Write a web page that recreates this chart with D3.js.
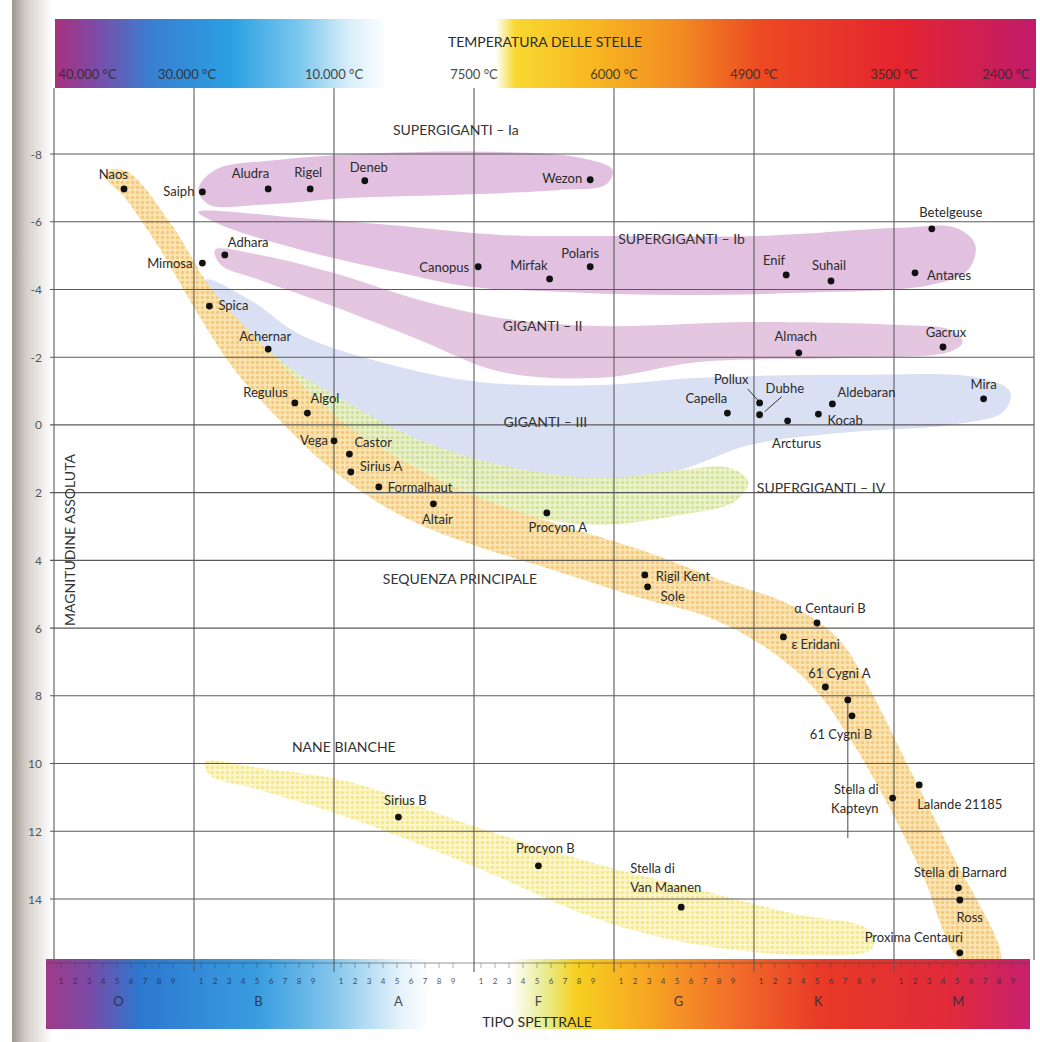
<!DOCTYPE html>
<html>
<head>
<meta charset="utf-8">
<script src="https://cdn.jsdelivr.net/npm/d3@7"></script>
<style>
    body { margin: 0; background: #fff; }
    svg text { font-family: Lato, "Open Sans", sans-serif; }
</style>
</head>
<body>
<div id="canvas"></div>
<script>
"use strict"

/* drawing size */
let svgWidth = 1040;
let svgHeight = 1042;
/* plot box */
let plotLeft = 54;
let plotRight = 1034;
let plotTop = 88;
let plotBottom = 960;

/* axis data */
let spectralClasses = ["O", "B", "A", "F", "G", "K", "M"];
let subTypes = [1, 2, 3, 4, 5, 6, 7, 8, 9];
let magnitudeTicks = [-8, -6, -4, -2, 0, 2, 4, 6, 8, 10, 12, 14];
let temperatureLabels = ["40.000 °C", "30.000 °C", "10.000 °C", "7500 °C", "6000 °C", "4900 °C", "3500 °C", "2400 °C"];
let temperatureAt = [0.24, 0.95, 2, 3, 4, 5, 6, 6.8]; // spectral position of each label

/* stars: spectral position (0 = O0 ... 7 = end of M) and absolute magnitude */
let starNames = ["Naos", "Saiph", "Aludra", "Rigel", "Deneb", "Wezon", "Adhara", "Mimosa", "Canopus", "Mirfak",
    "Polaris", "Spica", "Achernar", "Betelgeuse", "Enif", "Suhail", "Antares", "Almach", "Gacrux", "Capella",
    "Pollux", "Dubhe", "Arcturus", "Kocab", "Aldebaran", "Mira", "Regulus", "Algol", "Vega", "Castor",
    "Sirius A", "Formalhaut", "Altair", "Procyon A", "Rigil Kent", "Sole", "α Centauri B", "ε Eridani", "61 Cygni A", "",
    "61 Cygni B", "Stella di Kapteyn", "Lalande 21185", "Stella di Barnard", "Ross", "Proxima Centauri", "Sirius B", "Procyon B", "Stella di Van Maanen"];
let starType = [0.50, 1.06, 1.53, 1.83, 2.22, 3.83, 1.22, 1.06, 3.03, 3.54,
    3.83, 1.11, 1.53, 6.27, 5.23, 5.55, 6.15, 5.32, 6.35, 4.81,
    5.04, 5.04, 5.24, 5.46, 5.56, 6.64, 1.72, 1.81, 2.00, 2.11,
    2.12, 2.32, 2.71, 3.52, 4.22, 4.24, 5.45, 5.21, 5.51, 5.67,
    5.70, 5.99, 6.18, 6.46, 6.47, 6.47, 2.46, 3.46, 4.48];
let starMag = [-6.97, -6.88, -6.97, -6.97, -7.21, -7.24, -5.02, -4.78, -4.67, -4.31,
    -4.67, -3.51, -2.24, -5.79, -4.43, -4.25, -4.49, -2.13, -2.30, -0.35,
    -0.65, -0.30, -0.12, -0.32, -0.62, -0.77, -0.65, -0.35, 0.47, 0.86,
    1.39, 1.83, 2.33, 2.60, 4.43, 4.78, 5.85, 6.26, 7.74, 8.12,
    8.59, 11.02, 10.63, 13.67, 14.03, 15.59, 11.58, 13.02, 14.24];

/* regions of the diagram, outlines as [spectral, magnitude] */
let superGiantsIa = [[1.03, -6.94], [1.15, -7.53], [1.61, -7.83], [2.33, -8.03], [3.19, -8.06], [3.76, -7.89], [3.99, -7.53],
    [3.94, -7.09], [3.61, -6.94], [2.83, -6.79], [2.11, -6.70], [1.47, -6.50], [1.11, -6.50]];
let superGiantsIb = [[1.03, -6.29], [1.76, -6.11], [2.47, -5.88], [3.19, -5.61], [4.04, -5.58], [5.04, -5.58], [6.04, -5.82],
    [6.44, -5.82], [6.58, -5.32], [6.53, -4.58], [6.26, -4.13], [5.33, -3.90], [4.26, -3.84], [3.61, -3.93], [2.97, -4.08],
    [2.47, -4.49], [1.76, -5.17], [1.19, -5.91]];
let giantsII = [[1.15, -5.17], [1.47, -5.02], [1.97, -4.52], [2.61, -3.69], [3.19, -3.16], [3.90, -2.92], [4.97, -3.04],
    [6.04, -2.95], [6.40, -2.81], [6.49, -2.45], [6.40, -2.16], [5.69, -1.98], [4.61, -1.86], [3.90, -1.39], [3.19, -1.57],
    [2.61, -2.51], [1.97, -3.54], [1.47, -4.28], [1.19, -4.73]];
let giantsIII = [[1.08, -4.28], [1.40, -3.69], [1.76, -2.66], [2.33, -1.86], [3.04, -1.27], [3.90, -1.18], [4.61, -1.39],
    [5.69, -1.48], [6.61, -1.39], [6.83, -0.97], [6.78, -0.38], [6.40, 0.00], [5.69, 0.21], [4.97, 0.59], [4.47, 1.33],
    [3.90, 1.77], [3.19, 1.83], [2.61, 1.18], [1.97, -0.15], [1.47, -1.62], [1.15, -3.25]];
let superGiantsIV = [[1.44, -2.36], [1.76, -1.48], [2.19, -0.44], [2.61, 0.44], [3.19, 1.18], [3.90, 1.57], [4.47, 1.33],
    [4.83, 1.27], [4.96, 1.68], [4.86, 2.27], [4.47, 2.66], [3.90, 2.95], [3.33, 2.66], [2.76, 2.07], [2.33, 1.33],
    [1.90, 0.15], [1.54, -1.18], [1.40, -1.92]];
let mainSequence = [[0.40, -7.53], [0.53, -7.47], [0.84, -5.91], [1.13, -3.99], [1.54, -2.16], [2.04, -0.15], [2.54, 1.18],
    [3.04, 2.16], [3.61, 2.95], [4.19, 3.69], [4.76, 4.58], [5.26, 5.32], [5.61, 6.35], [5.83, 7.83], [6.08, 9.90],
    [6.40, 12.55], [6.76, 15.86], [6.49, 15.86], [6.19, 13.14], [5.90, 10.78], [5.69, 9.30], [5.44, 7.83], [5.11, 6.65],
    [4.69, 5.70], [4.19, 5.11], [3.61, 4.34], [2.97, 3.51], [2.47, 2.66], [1.97, 1.27], [1.61, -0.15], [1.29, -1.62],
    [1.01, -3.40], [0.76, -5.17], [0.49, -6.79], [0.37, -7.29]];
let whiteDwarfs = [[1.08, 9.95], [1.47, 10.13], [2.11, 10.54], [2.97, 11.81], [3.90, 12.99], [4.61, 13.73], [5.33, 14.47],
    [5.76, 14.77], [5.86, 15.12], [5.83, 15.51], [5.33, 15.65], [4.61, 15.36], [3.90, 14.62], [2.97, 12.99], [2.11, 11.61],
    [1.47, 10.78], [1.11, 10.34]];

/* region names and where they are written */
let regionNames = ["SUPERGIGANTI – Ia", "SUPERGIGANTI – Ib", "GIGANTI – II", "GIGANTI – III", "SUPERGIGANTI – IV", "SEQUENZA PRINCIPALE", "NANE BIANCHE"];
let regionLabelAt = [[2.87, -8.71], [4.03, -5.49], [3.49, -2.95], [3.51, -0.09], [5.02, 1.86], [2.90, 4.55], [2.07, 9.5]];
let regionAnchor = ["middle", "start", "middle", "middle", "start", "middle", "middle"];

/* label offsets from the dot: [dx, dy, anchor] */
let labelLayout = {
    "Naos": [4, -15, "end"], "Saiph": [-8, -1, "end"], "Aludra": [1, -16, "end"], "Rigel": [-2, -17, "middle"],
    "Deneb": [4, -14, "middle"], "Wezon": [-8, -2, "end"], "Adhara": [3, -13, "start"], "Mimosa": [-10, 0, "end"],
    "Canopus": [-9, 0, "end"], "Mirfak": [-2, -14, "end"], "Polaris": [-10, -14, "middle"], "Spica": [9, -1, "start"],
    "Achernar": [-3, -13, "middle"], "Betelgeuse": [19, -17, "middle"], "Enif": [-1, -15, "end"], "Suhail": [-2, -16, "middle"],
    "Antares": [12, 2, "start"], "Almach": [-3, -17, "middle"], "Gacrux": [3, -15, "middle"], "Capella": [-21, -15, "middle"],
    "Pollux": [-11, -24, "end"], "Dubhe": [6, -27, "start"], "Arcturus": [9, 22, "middle"], "Kocab": [9, 6, "start"],
    "Aldebaran": [5, -12, "start"], "Mira": [0, -15, "middle"], "Regulus": [-7, -11, "end"], "Algol": [3, -15, "start"],
    "Vega": [-6, -1, "end"], "Castor": [5, -12, "start"], "Sirius A": [9, -6, "start"], "Formalhaut": [9, 0, "start"],
    "Altair": [4, 15, "middle"], "Procyon A": [11, 14, "middle"], "Rigil Kent": [11, 1, "start"], "Sole": [13, 9, "start"],
    "α Centauri B": [13, -15, "middle"], "ε Eridani": [8, 7, "start"], "61 Cygni A": [14, -14, "middle"],
    "61 Cygni B": [-11, 18, "middle"], "Stella di Kapteyn": [-14, -9, "end", ["Stella di", "Kapteyn"]],
    "Lalande 21185": [-2, 19, "start"], "Stella di Barnard": [2, -16, "middle"], "Ross": [10, 17, "middle"],
    "Proxima Centauri": [3, -16, "end"], "Sirius B": [7, -17, "middle"], "Procyon B": [7, -18, "middle"],
    "Stella di Van Maanen": [-51, -39, "start", ["Stella di", "Van Maanen"]]
};
/* short leader lines: [star, dx1, dy1, dx2, dy2] */
let leaders = [["Pollux", -12, -14, -2, -3], ["Dubhe", 22, -18, 5, -3]];
/* the odd vertical stroke below 61 Cygni */
let cygniStroke = [[5.67, 8.12], [5.67, 12.2]];

/* build the star table from the arrays */
let stars = [];
for (let i = 0; i < starNames.length; i++) {
    stars.push({ name: starNames[i], type: starType[i], mag: starMag[i] });
}

let svg = d3.select("#canvas")
    .append("svg")
    .attr("width", svgWidth)
    .attr("height", svgHeight);

/* scales */
let xScale = d3.scaleLinear()
    .domain([0, 7])
    .range([plotLeft, plotRight]);

let yScale = d3.scaleLinear()
    .domain([-8, 14])
    .range([154, 899]);

let defs = svg.append("defs");

/* colour bars gradients */
function addGradient(id, stops) {
    let g = defs.append("linearGradient").attr("id", id)
        .attr("x1", "0%").attr("x2", "100%").attr("y1", "0%").attr("y2", "0%");
    stops.forEach(function (s) {
        g.append("stop").attr("offset", s[0]).attr("stop-color", s[1]);
    });
}
addGradient("topBar", [[0, "#a8307c"], [0.04, "#7e4aa6"], [0.097, "#3a7ed0"], [0.18, "#2aa0e2"], [0.25, "#7cc8ee"],
    [0.30, "#d8eef9"], [0.34, "#ffffff"], [0.449, "#ffffff"], [0.469, "#f8d830"], [0.556, "#f7b420"],
    [0.638, "#f28a22"], [0.719, "#ec4a22"], [0.862, "#e42430"], [1, "#c01c6c"]]);
addGradient("bottomBar", [[0, "#a03a88"], [0.045, "#7a4aa8"], [0.096, "#2c78d0"], [0.217, "#3a9ee0"], [0.289, "#80c4ec"],
    [0.36, "#e4f2fa"], [0.39, "#ffffff"], [0.472, "#ffffff"], [0.507, "#e8ec90"], [0.538, "#f6d020"],
    [0.614, "#f6a422"], [0.695, "#f2702a"], [0.787, "#e83a26"], [0.919, "#e02a3a"], [1, "#c82070"]]);
addGradient("pageEdge", [[0, "#9d958e"], [0.35, "#d3cec9"], [1, "#ffffff"]]);

/* dotted fills for the yellow / green bands */
function addDots(id, back, dot) {
    let p = defs.append("pattern").attr("id", id)
        .attr("patternUnits", "userSpaceOnUse").attr("width", 5).attr("height", 5);
    p.append("rect").attr("width", 5).attr("height", 5).attr("fill", back);
    p.append("circle").attr("cx", 2.5).attr("cy", 2.5).attr("r", 1.7).attr("fill", dot);
}
addDots("msDots", "#fae3ae", "#f4c676");
addDots("wdDots", "#fcf5c8", "#f3e67c");
addDots("sgDots", "#e9f1c6", "#d0e08e");

defs.append("clipPath").attr("id", "plotClip")
    .append("rect")
    .attr("x", plotLeft).attr("y", plotTop)
    .attr("width", plotRight - plotLeft).attr("height", plotBottom - plotTop);

/* page edge shadow on the left */
svg.append("rect")
    .attr("x", 12).attr("y", 0)
    .attr("width", 40).attr("height", svgHeight)
    .attr("fill", "url(#pageEdge)");

/**** bands ****/
let bandLine = d3.line()
    .x(function (d) { return xScale(d[0]); })
    .y(function (d) { return yScale(d[1]); })
    .curve(d3.curveCatmullRomClosed.alpha(0.5));

let bands = svg.append("g").attr("clip-path", "url(#plotClip)");
let bandList = [
    [superGiantsIa, "#dcb6d9", 0.85],
    [superGiantsIb, "#dcb6d9", 0.85],
    [giantsII, "#dfbcdc", 0.85],
    [giantsIII, "#d3daf1", 0.85],
    [superGiantsIV, "url(#sgDots)", 0.9],
    [whiteDwarfs, "url(#wdDots)", 0.9],
    [mainSequence, "url(#msDots)", 0.95]
];
for (let i = 0; i < bandList.length; i++) {
    bands.append("path")
        .attr("d", bandLine(bandList[i][0]))
        .attr("fill", bandList[i][1])
        .attr("opacity", bandList[i][2]);
}

/**** grid ****/
for (let i = 0; i < magnitudeTicks.length; i++) {
    svg.append("line")
        .attr("x1", plotLeft - 4).attr("x2", plotRight)
        .attr("y1", yScale(magnitudeTicks[i])).attr("y2", yScale(magnitudeTicks[i]))
        .attr("stroke", "#5a5a5a").attr("stroke-width", 1.1);

    svg.append("text")
        .attr("x", plotLeft - 12)
        .attr("y", yScale(magnitudeTicks[i]))
        .attr("text-anchor", "end")
        .attr("dominant-baseline", "central")
        .attr("font-size", 12)
        .attr("fill", "#555")
        .text(magnitudeTicks[i]);
}

/* the odd stroke */
svg.append("line")
    .attr("x1", xScale(cygniStroke[0][0])).attr("y1", yScale(cygniStroke[0][1]))
    .attr("x2", xScale(cygniStroke[1][0])).attr("y2", yScale(cygniStroke[1][1]))
    .attr("stroke", "#5a5a5a").attr("stroke-width", 1.1);

/* y axis title */
svg.append("text")
    .attr("transform", "translate(69, 540) rotate(-90)")
    .attr("text-anchor", "middle")
    .attr("dominant-baseline", "central")
    .attr("font-size", 14)
    .attr("fill", "#333")
    .text("MAGNITUDINE ASSOLUTA");

/**** colour bars ****/
svg.append("rect")
    .attr("x", plotLeft + 1).attr("y", 19)
    .attr("width", plotRight - plotLeft + 1).attr("height", plotTop - 19)
    .attr("fill", "url(#topBar)");

svg.append("text")
    .attr("x", 545).attr("y", 41)
    .attr("text-anchor", "middle")
    .attr("dominant-baseline", "central")
    .attr("font-size", 14)
    .attr("fill", "#2e2a2a")
    .text("TEMPERATURA DELLE STELLE");

for (let i = 0; i < temperatureLabels.length; i++) {
    svg.append("text")
        .attr("x", xScale(temperatureAt[i]))
        .attr("y", 74)
        .attr("text-anchor", "middle")
        .attr("dominant-baseline", "central")
        .attr("font-size", 13)
        .attr("fill", "#2e2a2a")
        .attr("opacity", 0.85)
        .text(temperatureLabels[i]);
}

svg.append("rect")
    .attr("x", 46).attr("y", plotBottom - 1)
    .attr("width", 984).attr("height", 70)
    .attr("fill", "url(#bottomBar)");

/* spectral ruler */
svg.append("line")
    .attr("x1", 46).attr("x2", 1030)
    .attr("y1", 963).attr("y2", 963)
    .attr("stroke", "#444").attr("stroke-width", 0.8).attr("opacity", 0.7);

for (let c = 0; c < spectralClasses.length; c++) {
    for (let j = 0; j < subTypes.length; j++) {
        svg.append("line")
            .attr("x1", xScale(c + (subTypes[j] - 0.5) / 10)).attr("x2", xScale(c + (subTypes[j] - 0.5) / 10))
            .attr("y1", 963).attr("y2", 968)
            .attr("stroke", "#444").attr("stroke-width", 0.7).attr("opacity", 0.6);

        svg.append("text")
            .attr("x", xScale(c + (subTypes[j] - 0.5) / 10))
            .attr("y", 981)
            .attr("text-anchor", "middle")
            .attr("dominant-baseline", "central")
            .attr("font-size", 8)
            .attr("fill", "#2a2a3a")
            .attr("opacity", 0.8)
            .text(subTypes[j]);
    }
    svg.append("text")
        .attr("x", xScale(c + 0.46))
        .attr("y", 1001)
        .attr("text-anchor", "middle")
        .attr("dominant-baseline", "central")
        .attr("font-size", 13)
        .attr("fill", "#2a2a3a")
        .attr("opacity", 0.85)
        .text(spectralClasses[c]);
}

svg.append("text")
    .attr("x", 537).attr("y", 1021)
    .attr("text-anchor", "middle")
    .attr("dominant-baseline", "central")
    .attr("font-size", 14)
    .attr("fill", "#2a2a2a")
    .text("TIPO SPETTRALE");

/* vertical grid lines over everything */
for (let c = 0; c <= spectralClasses.length; c++) {
    svg.append("line")
        .attr("x1", xScale(c)).attr("x2", xScale(c))
        .attr("y1", plotTop).attr("y2", c == 0 || c == 7 ? plotBottom : 972)
        .attr("stroke", "#5a5a5a").attr("stroke-width", 1.1);
}

/**** region names ****/
for (let i = 0; i < regionNames.length; i++) {
    svg.append("text")
        .attr("x", xScale(regionLabelAt[i][0]))
        .attr("y", yScale(regionLabelAt[i][1]))
        .attr("text-anchor", regionAnchor[i])
        .attr("dominant-baseline", "central")
        .attr("font-size", 14)
        .attr("fill", "#333")
        .text(regionNames[i]);
}

/**** stars ****/
svg.selectAll("circle.star")
    .data(stars)
    .join("circle")
    .attr("class", "star")
    .attr("cx", function (d) { return xScale(d.type); })
    .attr("cy", function (d) { return yScale(d.mag); })
    .attr("r", 3.4)
    .attr("fill", "#111");

for (let i = 0; i < stars.length; i++) {
    let lay = labelLayout[stars[i].name];
    if (!lay) continue;
    let lines = lay[3] ? lay[3] : [stars[i].name];
    for (let k = 0; k < lines.length; k++) {
        svg.append("text")
            .attr("x", xScale(stars[i].type) + lay[0])
            .attr("y", yScale(stars[i].mag) + lay[1] + k * 19)
            .attr("text-anchor", lay[2])
            .attr("dominant-baseline", "central")
            .attr("font-size", 13)
            .attr("fill", "#2b2b2b")
            .text(lines[k]);
    }
}

for (let i = 0; i < leaders.length; i++) {
    let s = stars.find(function (d) { return d.name == leaders[i][0]; });
    svg.append("line")
        .attr("x1", xScale(s.type) + leaders[i][1]).attr("y1", yScale(s.mag) + leaders[i][2])
        .attr("x2", xScale(s.type) + leaders[i][3]).attr("y2", yScale(s.mag) + leaders[i][4])
        .attr("stroke", "#333").attr("stroke-width", 1);
}
</script>
</body>
</html>
